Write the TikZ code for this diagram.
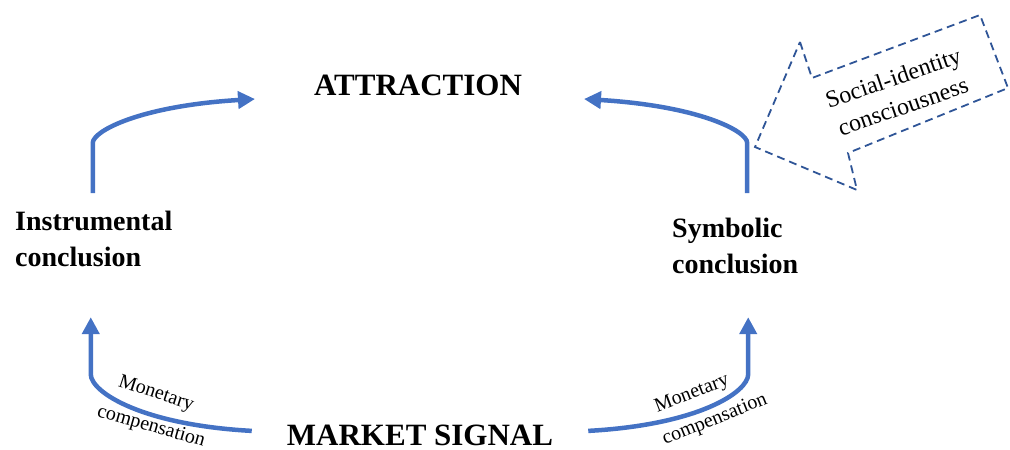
\documentclass[tikz,border=0pt]{standalone}
\usepackage{fontspec}
\setmainfont{Liberation Serif}
\usetikzlibrary{arrows.meta}
\definecolor{signalblue}{RGB}{68,114,196}
\definecolor{calloutblue}{RGB}{47,85,151}

\begin{document}
\begin{tikzpicture}[x=1pt,y=-1pt,
  headline/.style={inner sep=0pt,font=\fontsize{31}{37}\selectfont\bfseries},
  concept/.style={inner sep=0pt,align=left,font=\fontsize{28}{36}\selectfont\bfseries},
  gain/.style={inner sep=0pt,font=\fontsize{20}{24}\selectfont},
  flow/.style={signalblue,line width=4.5pt,-{Triangle[length=17pt,width=17pt]}},
  callout/.style={calloutblue,line width=1.8pt,dash pattern=on 8pt off 5pt}]
  \path[use as bounding box] (0,0) rectangle (1010,450);

  \node[headline,anchor=base] (attraction) at (418,95) {ATTRACTION};
  \node[headline,anchor=base] (market) at (420,445) {MARKET SIGNAL};
  \node[concept,anchor=north west] (instr) at (15,211) {Instrumental\\conclusion};
  \node[concept,anchor=north west] (symb) at (672,218) {Symbolic\\conclusion};

  % ends of the four arrows
  \coordinate (instrOut) at ([xshift=-1pt,yshift=18pt]instr.north);
  \coordinate (instrIn) at ([xshift=-3pt,yshift=-50pt]instr.south);
  \coordinate (symbOut) at ([xshift=12pt,yshift=25pt]symb.north);
  \coordinate (symbIn) at ([xshift=13pt,yshift=-43pt]symb.south);
  \coordinate (attrL) at (255,99);
  \coordinate (attrR) at (584,99);
  \coordinate (marketL) at ([xshift=-35pt,yshift=4pt]market.west);
  \coordinate (marketR) at ([xshift=35pt,yshift=4pt]market.east);

  \draw[flow] (instrOut) -- ++(0,-50) .. controls +(0,-12) and +(-115,7) .. (attrL);
  \draw[flow] (symbOut) -- ++(0,-50) .. controls +(0,-12) and +(115,7) .. (attrR);
  \draw[flow] (marketL) .. controls +(-110,-6) and +(0,18) .. ([yshift=-57pt]instrIn) -- (instrIn);
  \draw[flow] (marketR) .. controls +(110,-6) and +(0,18) .. ([yshift=-57pt]symbIn) -- (symbIn);

  \node[gain,rotate=-18] (monL) at (156,394) {Monetary};
  \node[gain,rotate=-16] (compL) at (151,427) {compensation};
  \node[gain,rotate=21] (monR) at (692,394) {Monetary};
  \node[gain,rotate=22] (compR) at (715,420) {compensation};

  % dashed callout pointing at the right-hand arrow
  \draw[callout] (800,42) -- (812,78) -- (980,15) -- (1008,88) -- (848,153)
    -- (857,190) -- (755,147) -- cycle;
  \node[inner sep=0pt,align=center,rotate=19,font=\fontsize{24}{30}\selectfont]
    (social) at (898,92) {Social-identity\\consciousness};
\end{tikzpicture}
\end{document}
